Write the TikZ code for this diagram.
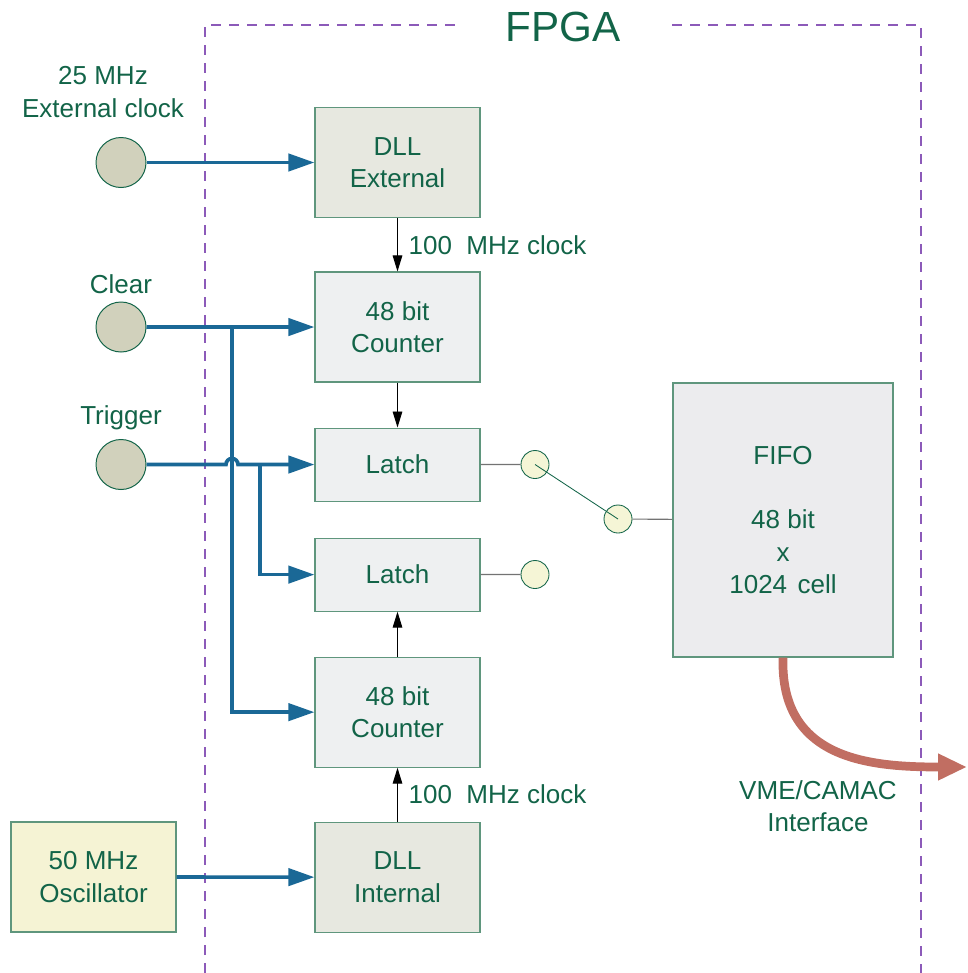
\documentclass[tikz,border=0pt]{standalone}
\usepackage{fontspec}
\setmainfont{Liberation Sans}
\usetikzlibrary{arrows.meta,positioning}

\definecolor{txtgreen}{RGB}{18,100,72}
\definecolor{boxline}{RGB}{95,150,125}
\definecolor{busblue}{RGB}{26,104,150}
\definecolor{fpgaline}{RGB}{140,90,185}
\definecolor{vmered}{RGB}{193,110,98}
\definecolor{dllfill}{RGB}{231,232,224}
\definecolor{cntfill}{RGB}{238,240,241}
\definecolor{fifofill}{RGB}{236,236,238}
\definecolor{oscfill}{RGB}{245,243,212}
\definecolor{infill}{RGB}{209,209,188}
\definecolor{swfill}{RGB}{245,245,214}

\begin{document}
\begin{tikzpicture}[x=0.025cm, y=-0.025cm, on grid,
    font=\fontsize{18.5}{23}\selectfont,
    block/.style={draw=boxline, line width=0.8pt, text=txtgreen, align=center,
        minimum width=4.125cm, minimum height=2.75cm, inner sep=0pt},
    latch/.style={block, minimum height=1.825cm, fill=cntfill},
    inport/.style={circle, draw=txtgreen, line width=0.7pt, fill=infill, minimum size=1.25cm, inner sep=0pt},
    swpin/.style={circle, draw=txtgreen, line width=0.6pt, fill=swfill, minimum size=0.7cm, inner sep=0pt},
    lbl/.style={text=txtgreen, align=center},
    bus/.style={draw=busblue, line width=2.6pt, -{Triangle[length=0.65cm, width=0.43cm]}},
    clk/.style={line width=0.7pt, -{Triangle[length=0.4cm, width=0.24cm]}},
    wire/.style={draw=black!55, line width=0.8pt},
    fpga/.style={draw=fpgaline, line width=1pt, dash pattern=on 0.25cm off 0.2cm},
  ]
  \useasboundingbox (0,0) rectangle (967,973);

  % FPGA frame
  \draw[fpga] (205,973) -- (205,25) -- (462,25);
  \draw[fpga] (672,25) -- (921,25) -- (921,973);
  \node[lbl, font=\fontsize{30}{36}\selectfont] (fpgalbl) at (563,27) {FPGA};

  % counter chain
  \node[block, fill=dllfill] (dllext) at (397.5,162.5) {DLL\\External};
  \node[block, fill=cntfill] (cnt1) [below=4.1125cm of dllext] {48 bit\\Counter};
  \node[latch] (lat1) [below=3.4375cm of cnt1] {Latch};
  \node[latch] (lat2) [below=2.75cm of lat1] {Latch};
  \node[block, fill=cntfill] (cnt2) [below=3.4375cm of lat2] {48 bit\\Counter};
  \node[block, fill=dllfill] (dllint) [below=4.125cm of cnt2] {DLL\\Internal};
  \node[block, fill=oscfill] (osc) at (93.5,877) {50 MHz\\Oscillator};
  \node[block, fill=fifofill, minimum width=5.5cm, minimum height=6.85cm] (fifo) at (783,520)
      {FIFO\\~\\48 bit\\x\\1024\hspace{0.4em}cell};

  % inputs
  \node[inport] (extclk) at (121,162.5) {};
  \node[inport] (clear) at (121,327) {};
  \node[inport] (trig) at (121,464.5) {};
  \node[lbl] (extlbl) at (103,92) {25 MHz\\External clock};
  \node[lbl] (clrlbl) at (121,284) {Clear};
  \node[lbl] (triglbl) at (121,418) {Trigger};

  % switch
  \node[swpin] (sw1) at (535,464.5) {};
  \node[swpin] (sw2) at (618,519) {};
  \node[swpin] (sw3) at (535,574.5) {};

  \coordinate (clrbr) at (232,327);
  \coordinate (hop) at (232,464.5);
  \coordinate (trigbr) at (260,464.5);
  \coordinate (vme) at (967,767);

  \draw[bus] (extclk) -- (dllext);
  \draw[bus] (clear) -- (cnt1);
  \draw[bus] (clrbr) |- (cnt2);
  \draw[bus] (trig) -- ([xshift=-0.15cm]hop) arc[start angle=180, end angle=0, radius=0.15cm] -- (lat1);
  \draw[bus] (trigbr) |- (lat2);
  \draw[bus] (osc) -- (dllint);

  \draw[clk] (dllext) -- node[right, lbl, xshift=0.15cm] {100\hspace{0.55em}MHz clock} (cnt1);
  \draw[clk] (cnt1) -- (lat1);
  \draw[clk] (cnt2) -- (lat2);
  \draw[clk] (dllint) -- node[right, lbl, xshift=0.15cm] {100\hspace{0.55em}MHz clock} (cnt2);

  \draw[wire] (lat1) -- (sw1);
  \draw[wire] (lat2) -- (sw3);
  \draw[wire] (sw2) -- (fifo);
  \draw[draw=txtgreen, line width=0.6pt] (sw1.center) -- (sw2.center);

  % output
  \draw[draw=vmered, line width=6.2pt, -{Triangle[length=0.72cm, width=0.62cm]}]
      (fifo.south) .. controls (780,760) and (870,767) .. (vme);
  \node[lbl] (vmelbl) at (818,806) {VME/CAMAC\\Interface};
\end{tikzpicture}
\end{document}
